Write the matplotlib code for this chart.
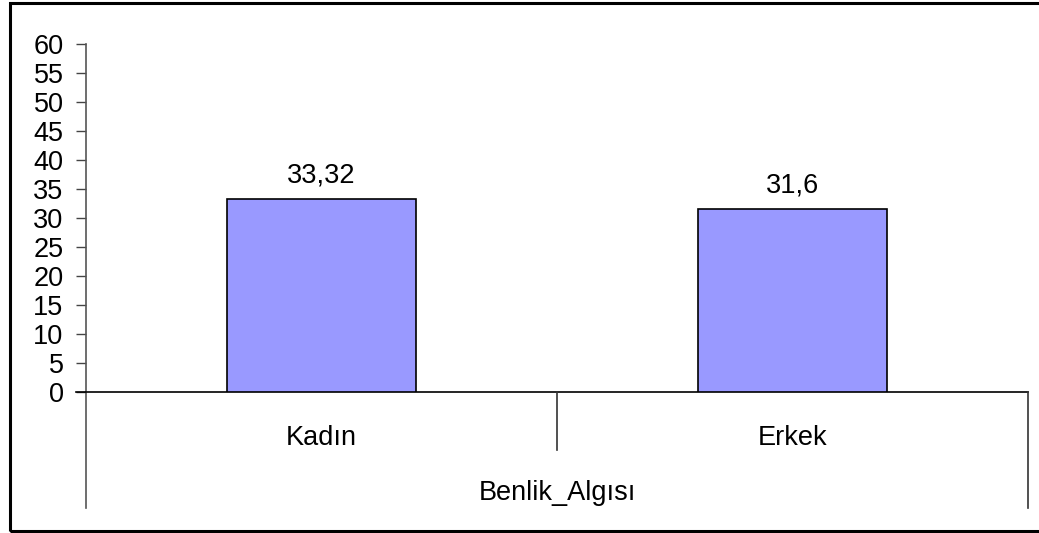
import matplotlib
matplotlib.use("Agg")
from matplotlib import pyplot as plt
from matplotlib.lines import Line2D
from matplotlib.patches import Rectangle

# data
categories = ["Kadın", "Erkek"]
values = [33.32, 31.6]
value_labels = ["33,32", "31,6"]
group_label = "Benlik_Algısı"
yticks = list(range(0, 65, 5))

plt.rcParams['font.family'] = ['Liberation Sans', 'DejaVu Sans']
FS = 19.5

W, H = 1039, 533
fig = plt.figure(figsize=(W / 100, H / 100), dpi=100)

def fx(px):
    return px / W

def fy(py):
    return 1 - py / H

# axes box in pixel coords: x 86..1028, y 44..392
ax = fig.add_axes([fx(86), fy(392), fx(1028 - 86), fy(44) - fy(392)])
x = list(range(len(categories)))
ax.bar(x, values, width=0.4, color="#9999FF", edgecolor="black", linewidth=1.2, zorder=3)
for xi, v, lab in zip(x, values, value_labels):
    ax.annotate(lab, (xi, v), xytext=(0, 11.5), textcoords="offset points",
                ha="center", va="baseline", fontsize=FS)

ax.set_xlim(-0.5, len(categories) - 0.5)
ax.set_ylim(0, 60)
ax.set_yticks(yticks)
ax.set_yticklabels([str(t) for t in yticks], fontsize=FS)
ax.tick_params(axis="y", length=7.2, width=1, color="#444444", pad=9)
ax.set_xticks([])
for s in ["top", "right", "left"]:
    ax.spines[s].set_visible(False)
ax.spines["bottom"].set_color("black")
ax.spines["bottom"].set_linewidth(1.2)

# left axis line, running down into the category area
fig.add_artist(Line2D([fx(86), fx(86)], [fy(44), fy(508)], color="#555555", lw=1.2))
# category separators
fig.add_artist(Line2D([fx(557), fx(557)], [fy(392), fy(450)], color="#333333", lw=1.2))
fig.add_artist(Line2D([fx(1028), fx(1028)], [fy(392), fy(508)], color="#333333", lw=1.2))
# horizontal line extends left over tick area
fig.add_artist(Line2D([fx(76), fx(86)], [fy(392), fy(392)], color="black", lw=1.2))

# category labels
for xi, cat in zip(x, categories):
    px = 86 + (xi + 0.5) * (1028 - 86) / len(categories)
    fig.text(fx(px), fy(438), cat, ha="center", va="center", fontsize=FS)
fig.text(fx((86 + 1028) / 2), fy(493), group_label, ha="center", va="center", fontsize=FS)

# outer frame
fig.add_artist(Rectangle((fx(10), fy(531)), 1.2, fy(3) - fy(531), transform=fig.transFigure,
                         fill=False, edgecolor="black", linewidth=2.2))

plt.savefig("out.png", dpi=100)
